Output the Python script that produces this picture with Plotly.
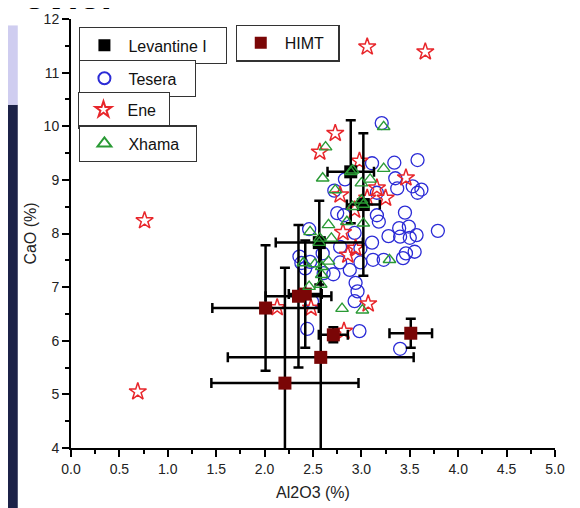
import plotly.graph_objects as go

# ---------------- data ----------------
lev_x = [2.89, 3.02, 2.565]
lev_y = [9.15, 8.54, 7.83]
lev_xerr = [0.24, 0.17, 0.45]
lev_yerr = [0.96, 1.33, 0.78]

himt_x = [2.01, 2.35, 2.42, 2.71, 2.58, 2.21, 3.51]
himt_y = [6.61, 6.83, 6.87, 6.11, 5.69, 5.21, 6.14]
himt_xerr = [0.55, 0.34, 0.17, 0.15, 0.96, 0.76, 0.22]
himt_yerr = [1.17, 1.33, 1.00, 0.14, 2.20, 2.15, 0.27]

tesera_x = [3.21, 3.11, 3.34, 3.58, 2.83, 2.72, 3.35, 3.37, 3.53, 3.62, 3.58, 3.16,
            2.75, 2.82, 3.16, 3.45, 3.18, 2.93, 3.39, 3.49, 3.79, 3.28, 3.40, 3.50,
            3.57, 3.11, 2.78, 2.99, 3.46, 3.55, 3.43, 3.12, 3.23, 2.36, 2.38, 2.47,
            2.42, 2.78, 2.88, 2.99, 2.61, 2.71, 2.94, 2.96, 2.93, 2.46, 2.44, 2.98,
            3.40, 2.49, 2.60]
tesera_y = [10.06, 9.31, 9.32, 9.37, 9.01, 8.80, 9.03, 8.84, 8.88, 8.82, 8.76, 8.76,
            8.38, 8.34, 8.34, 8.39, 8.22, 8.01, 8.10, 8.13, 8.05, 7.95, 7.94, 7.92,
            7.97, 7.83, 7.75, 7.72, 7.63, 7.66, 7.54, 7.51, 7.51, 7.57, 7.45, 7.47,
            7.35, 7.46, 7.32, 7.46, 7.26, 7.24, 7.08, 6.92, 6.74, 8.08, 6.22, 6.18,
            5.85, 6.73, 7.63]

ene_x = [3.06, 3.66, 0.76, 0.69, 2.73, 2.57, 2.98, 3.46, 2.78, 3.16, 3.25, 3.06,
         2.81, 2.94, 2.86, 3.07, 2.13, 2.48, 2.82, 2.93]
ene_y = [11.48, 11.39, 8.24, 5.05, 9.87, 9.52, 9.35, 9.04, 8.72, 8.85, 8.66, 8.66,
         8.02, 7.73, 7.60, 6.69, 6.62, 6.61, 6.18, 8.44]

xhama_x = [3.23, 2.63, 2.60, 3.23, 2.91, 3.00, 3.09, 2.73, 2.91, 3.00, 2.85, 3.02,
           2.66, 2.47, 2.57, 2.69, 2.66, 2.52, 2.40, 2.59, 2.59, 2.58, 2.46, 3.29,
           2.80, 3.01, 2.89, 3.02, 2.565]
xhama_y = [9.99, 9.61, 9.03, 9.21, 9.18, 8.94, 9.01, 8.81, 8.50, 8.62, 8.22, 8.19,
           8.16, 8.03, 7.91, 7.91, 7.48, 7.43, 7.45, 7.38, 7.23, 7.05, 7.01, 7.51,
           6.60, 6.57, 9.15, 8.54, 7.83]

x_ticks = [0.0, 0.5, 1.0, 1.5, 2.0, 2.5, 3.0, 3.5, 4.0, 4.5, 5.0]
y_ticks = [4, 5, 6, 7, 8, 9, 10, 11, 12]

# ---------------- figure ----------------
BLUE = "#2b2bd6"
RED = "#e8262b"
GREEN = "#2a9a35"
DARKRED = "#7a0606"
FONT = "Arial, Liberation Sans"

fig = go.Figure()

fig.add_trace(go.Scatter(
    x=tesera_x, y=tesera_y, mode="markers", name="Tesera", legend="legend3",
    marker=dict(symbol="circle-open", size=13, color=BLUE, line=dict(width=1.3, color=BLUE))))

fig.add_trace(go.Scatter(
    x=ene_x, y=ene_y, mode="markers", name="Ene", legend="legend4",
    marker=dict(symbol="star-open", size=13, color=RED, line=dict(width=1.5, color=RED))))

eb = dict(type="data", color="black", thickness=2.5, width=5)

fig.add_trace(go.Scatter(
    x=lev_x, y=lev_y, mode="markers", name="Levantine I", legend="legend",
    error_x=dict(array=lev_xerr, **eb), error_y=dict(array=lev_yerr, **eb),
    marker=dict(symbol="square", size=13, color="black")))

fig.add_trace(go.Scatter(
    x=himt_x, y=himt_y, mode="markers", name="HIMT", legend="legend2",
    error_x=dict(array=himt_xerr, **eb), error_y=dict(array=himt_yerr, **eb),
    marker=dict(symbol="square", size=13, color=DARKRED)))

fig.add_trace(go.Scatter(
    x=xhama_x, y=xhama_y, mode="markers", name="Xhama", legend="legend5",
    marker=dict(symbol="triangle-up-open", size=11, color=GREEN, line=dict(width=1.4, color=GREEN))))

axis_common = dict(
    showline=True, linecolor="black", linewidth=2, mirror=False,
    ticks="outside", ticklen=7, tickwidth=2, tickcolor="black",
    showgrid=False, zeroline=False,
    tickfont=dict(family=FONT, size=14, color="#222"),
)

fig.update_xaxes(range=[0, 5], tickvals=x_ticks, ticktext=[f"{v:.1f}" for v in x_ticks],
                 minor=dict(dtick=0.25, ticks="outside", ticklen=4, tickwidth=2, tickcolor="black", showgrid=False),
                 title=dict(text="Al2O3 (%)", font=dict(family=FONT, size=16, color="#222"), standoff=11),
                 **axis_common)
fig.update_yaxes(range=[4, 12], tickvals=y_ticks,
                 minor=dict(dtick=0.5, ticks="outside", ticklen=4, tickwidth=2, tickcolor="black", showgrid=False),
                 title=dict(text="CaO (%)", font=dict(family=FONT, size=16, color="#222"), standoff=3),
                 **axis_common)

def leg(x, y, w):
    return dict(x=x, y=y, xanchor="left", yanchor="top", orientation="h",
                entrywidth=w, entrywidthmode="pixels", itemwidth=38,
                bgcolor="white", bordercolor="#333", borderwidth=1.2,
                font=dict(family=FONT, size=16, color="#111"),
                itemsizing="constant")

fig.update_layout(
    width=572, height=500,
    margin=dict(l=63, r=25, t=11, b=60, autoexpand=False),
    plot_bgcolor="white", paper_bgcolor="white",
    showlegend=True,
    legend=leg(0.017, 0.981, 92),
    legend2=leg(0.340, 0.987, 48),
    legend3=leg(0.017, 0.904, 61),
    legend4=leg(0.015, 0.831, 36),
    legend5=leg(0.017, 0.752, 62),
    shapes=[
        dict(type="rect", xref="paper", yref="paper", x0=-0.131, x1=-0.110, y0=-0.16, y1=0.80,
             fillcolor="#1c2248", line=dict(width=0), layer="below"),
        dict(type="rect", xref="paper", yref="paper", x0=-0.131, x1=-0.110, y0=0.80, y1=0.985,
             fillcolor="#cfcdf0", line=dict(width=0), layer="below"),
    ],
    annotations=[
        dict(text="<b>evier</b>", xref="paper", yref="paper", x=0.097, y=0.999,
             xanchor="right", yanchor="bottom", showarrow=False,
             font=dict(family=FONT, size=40, color="black")),
    ],
)

fig.write_html("out.html")
